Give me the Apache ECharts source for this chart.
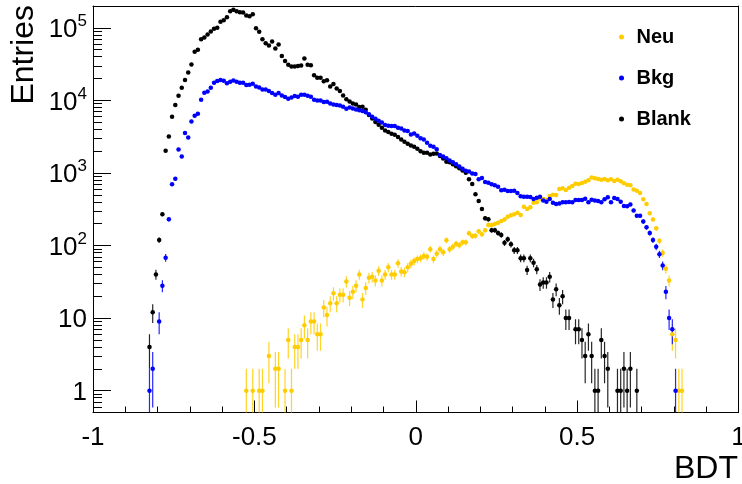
<!DOCTYPE html>
<html>
<head>
<meta charset="utf-8">
<script src="https://cdn.jsdelivr.net/npm/echarts@6.0.0/dist/echarts.min.js"></script>
<style>
html,body{margin:0;padding:0;background:#fff;}
#chart{width:742px;height:484px;}
</style>
</head>
<body>
<div id="chart"></div>
<script>
// Histogram binning: 200 bins of width 0.01 on [-1, 1]
const binWidth = 0.01;
const xStart = -1;

// Neu (first bin index 47)
const neuStart = 47;
const neuCounts = [
  1, null, 1, null, 1, 1, null, 3, null, 2,
  2, null, 1, 5, 1, 4, 4, 5, 8, 5,
  9, 9, 6, 6, 14, 11, 16, 22, 16, 21,
  21, 32, 19, 23, 28, 40, 18, 26, 36, 37,
  33, 45, 33, 40, 50, 40, 40, 57, 44, 43,
  50, 56, 61, 65, 67, 72, 70, 89, 65, 77,
  89, 81, 118, 89, 96, 106, 101, 111, 111, 148,
  135, 136, 157, 143, 163, 192, 192, 198, 206, 217,
  229, 249, 261, 269, 283, 263, 342, 318, 336, 389,
  394, 441, 437, 423, 481, 501, 497, 600, 614, 582,
  626, 660, 710, 703, 726, 757, 791, 869, 843, 824,
  806, 824, 791, 817, 773, 806, 766, 719, 689, 675,
  594, 569, 529, 433, 373, 278, 229, 173, 116, 79,
  48, 33, 6, 5, 1, 1
];

// Bkg (first bin index 17)
const bkgStart = 17;
const bkgCounts = [
  1, 2, null, 9, 28, 68, 230, 697, 832, 2110,
  1690, 3550, 3090, 5140, 6140, 6540, 10190, 12730, 13300, 14920,
  17470, 18440, 19040, 18620, 17300, 18030, 18850, 18030, 17470, 17470,
  16250, 16400, 16940, 15590, 15100, 14180, 14180, 13430, 12610, 11950,
  12610, 11720, 11100, 10500, 10990, 11460, 11220, 11950, 11950, 11560,
  11220, 10190, 10000, 10000, 9480, 9570, 9090, 8810, 8610, 8530,
  8160, 7660, 8010, 7760, 7520, 7290, 7120, 6840, 6470, 5940,
  5580, 5240, 4980, 4570, 4470, 4430, 4430, 4200, 4110, 3860,
  3780, 3400, 3510, 3250, 3000, 2900, 2610, 2370, 2300, 2120,
  1770, 1690, 1600, 1480, 1400, 1320, 1230, 1140, 1070, 1050,
  987, 966, 817, 850, 750, 733, 697, 675, 645, 576,
  587, 563, 563, 569, 529, 476, 470, 470, 466, 437,
  455, 470, 419, 401, 437, 389, 373, 381, 394, 394,
  397, 394, 423, 423, 423, 441, 394, 428, 419, 410,
  394, 433, 461, 394, 451, 437, 401, 350, 347, 369,
  305, 257, 257, 215, 178, 149, 119, 96, 76, 53,
  23, 10, 7, 1
];

// Blank (first bin index 17)
const blankStart = 17;
const blankCounts = [
  4, 12, 40, 119, 269, 2020, 3190, 5940, 8610, 11560,
  14920, 19050, 24300, 31300, 46700, 49800, 69800, 73800, 81100, 89200,
  96800, 100000, 121000, 127700, 140400, 169800, 177000, 169800, 164500, 163000,
  148200, 144900, 154400, 99100, 88100, 69800, 61500, 57200, 65000, 52000,
  59000, 41000, 34800, 31000, 29400, 29400, 29700, 30300, 37900, 30900,
  30600, 22300, 20500, 20500, 18300, 19000, 15600, 16800, 14600, 13500,
  11700, 10400, 9690, 9090, 8810, 8090, 8160, 7430, 6280, 5650,
  5020, 4610, 4200, 3860, 3660, 3470, 3360, 3120, 2900, 2690,
  2530, 2400, 2300, 2150, 2000, 1900, 1900, 1800, 1840, 1860,
  1720, 1580, 1430, 1400, 1320, 1240, 1160, 1080, 1006, 817,
  705, 507, 410, 318, 237, 230, 163, 163, 149, 140,
  109, 122, 104, 86, 86, 67, 67, 46, 67, 58,
  47, 29, 31, 31, 37, 18, 25, 15, 20, 10,
  10, null, 7, 7, 5, 3, 6, 3, 1, 1,
  5, 3, 2, null, null, 1, 1, 2, 1, 2,
  null, 1
];

const seriesNames = ['Neu', 'Bkg', 'Blank'];
const seriesColors = {Neu: '#ffcc00', Bkg: '#0000ff', Blank: '#000000'};

// Axis ranges / ticks
const xMin = -1, xMax = 1, xInterval = 0.5;
const yMin = 0.5, yMax = 2e5;
const yMajorTicks = [1, 10, 100, 1000, 10000, 100000];
const yMinorTicks = [0.6, 0.7, 0.8, 0.9,
  2, 3, 4, 5, 6, 7, 8, 9,
  20, 30, 40, 50, 60, 70, 80, 90,
  200, 300, 400, 500, 600, 700, 800, 900,
  2000, 3000, 4000, 5000, 6000, 7000, 8000, 9000,
  20000, 30000, 40000, 50000, 60000, 70000, 80000, 90000];

const FONT = '"Liberation Sans", Arial, Helvetica, sans-serif';

function binCenter(idx) {
  return +(xStart + binWidth * (idx + 0.5)).toFixed(4);
}
function points(start, counts) {
  const out = [];
  counts.forEach((n, k) => {
    if (n == null || n <= 0) return;
    out.push([binCenter(start + k), n]);
  });
  return out;
}
function errors(start, counts) {
  const out = [];
  counts.forEach((n, k) => {
    if (n == null || n <= 0) return;
    const e = Math.sqrt(n);
    const lo = n - e > 0 ? n - e : yMin * 0.8;
    out.push([binCenter(start + k), n, lo, n + e]);
  });
  return out;
}

function errSeries(name, start, counts) {
  const color = seriesColors[name];
  return {
    type: 'custom',
    name: name + ' err',
    xAxisIndex: 0, yAxisIndex: 0,
    clip: true,
    silent: true,
    encode: {x: 0, y: 1},
    data: errors(start, counts),
    renderItem: function (params, api) {
      const x = api.value(0), y = api.value(1), lo = api.value(2), hi = api.value(3);
      const a = api.coord([x, lo]);
      const b = api.coord([x, hi]);
      const l = api.coord([x - binWidth / 2, y]);
      const r = api.coord([x + binWidth / 2, y]);
      return {
        type: 'group',
        children: [
          {type: 'line', shape: {x1: a[0], y1: a[1], x2: b[0], y2: b[1]}, style: {stroke: color, lineWidth: 1.2, opacity: 0.85}},
          {type: 'line', shape: {x1: l[0], y1: l[1], x2: r[0], y2: r[1]}, style: {stroke: color, lineWidth: 1.2, opacity: 0.85}}
        ]
      };
    }
  };
}
function ptSeries(name, start, counts) {
  return {
    type: 'scatter',
    name: name,
    xAxisIndex: 0, yAxisIndex: 0,
    symbol: 'circle',
    symbolSize: 4.5,
    itemStyle: {color: seriesColors[name], opacity: 1},
    data: points(start, counts)
  };
}

function yLabel(v) {
  const e = Math.log10(v);
  const r = Math.round(e);
  if (Math.abs(e - r) > 1e-6 || r < 0 || r > 5) return '';
  if (r === 0) return '{b|1}';
  if (r === 1) return '{b|10}';
  return '{b|10}{s|' + r + '}';
}

const chart = echarts.init(document.getElementById('chart'), null, {renderer: 'canvas'});
chart.setOption({
  animation: false,
  backgroundColor: '#ffffff',
  grid: {left: 93, right: 3.5, top: 6, bottom: 71.5, containLabel: false, outerBoundsMode: 'none'},
  xAxis: [
    {
      type: 'value', position: 'bottom', min: xMin, max: xMax, interval: xInterval,
      axisLine: {show: true, onZero: false, lineStyle: {color: '#000', width: 1}},
      axisTick: {show: true, inside: true, length: 12, lineStyle: {color: '#000', width: 1}},
      minorTick: {show: true, splitNumber: 5, length: 6, lineStyle: {color: '#000', width: 1}},
      splitLine: {show: false},
      axisLabel: {show: true, margin: 12, fontFamily: FONT, fontSize: 26, color: '#000',
        hideOverlap: false,
        formatter: function (v) { return String(+v.toFixed(2)); }}
    },
    {
      type: 'value', position: 'top', min: xMin, max: xMax,
      axisLine: {show: true, onZero: false, lineStyle: {color: '#000', width: 1}},
      axisTick: {show: false}, axisLabel: {show: false}, splitLine: {show: false}
    }
  ],
  yAxis: [
    {
      type: 'log', logBase: 10, position: 'left', min: yMin, max: yMax,
      axisLine: {show: true, onZero: false, lineStyle: {color: '#000', width: 1}},
      axisTick: {show: true, inside: true, length: 18, customValues: yMajorTicks, lineStyle: {color: '#000', width: 1}},
      splitLine: {show: false},
      axisLabel: {
        show: true, margin: 6, formatter: yLabel,
        rich: {
          b: {fontFamily: FONT, fontSize: 26, lineHeight: 30, verticalAlign: 'bottom', color: '#000'},
          s: {fontFamily: FONT, fontSize: 17, lineHeight: 17, verticalAlign: 'top', color: '#000'}
        }
      }
    },
    {
      type: 'log', logBase: 10, position: 'right', min: yMin, max: yMax,
      axisLine: {show: true, onZero: false, lineStyle: {color: '#000', width: 1}},
      axisTick: {show: false}, axisLabel: {show: false}, splitLine: {show: false}
    },
    {
      type: 'log', logBase: 10, position: 'left', min: yMin, max: yMax,
      axisLine: {show: false, onZero: false},
      axisTick: {show: true, inside: true, length: 9, customValues: yMinorTicks, lineStyle: {color: '#000', width: 1}},
      axisLabel: {show: false}, splitLine: {show: false}
    }
  ],
  legend: {
    orient: 'vertical', left: 614, top: 22,
    itemWidth: 20, itemHeight: 5, itemGap: 21,
    icon: 'circle', selectedMode: false,
    textStyle: {fontFamily: FONT, fontSize: 20, fontWeight: 'bold', color: '#000', lineHeight: 20},
    data: seriesNames.map(n => ({name: n, itemStyle: {color: seriesColors[n]}}))
  },
  graphic: [
    {type: 'text', x: 24.5, y: 5, rotation: Math.PI / 2,
      style: {text: 'Entries', fontFamily: FONT, fontSize: 32, fill: '#000', align: 'right', verticalAlign: 'middle'}},
    {type: 'text', x: 738, y: 452.7,
      style: {text: 'BDT', fontFamily: FONT, fontSize: 32, fill: '#000', align: 'right', verticalAlign: 'top'}}
  ],
  series: [
    errSeries('Blank', blankStart, blankCounts),
    ptSeries('Blank', blankStart, blankCounts),
    errSeries('Neu', neuStart, neuCounts),
    ptSeries('Neu', neuStart, neuCounts),
    errSeries('Bkg', bkgStart, bkgCounts),
    ptSeries('Bkg', bkgStart, bkgCounts)
  ]
});
</script>
</body>
</html>
